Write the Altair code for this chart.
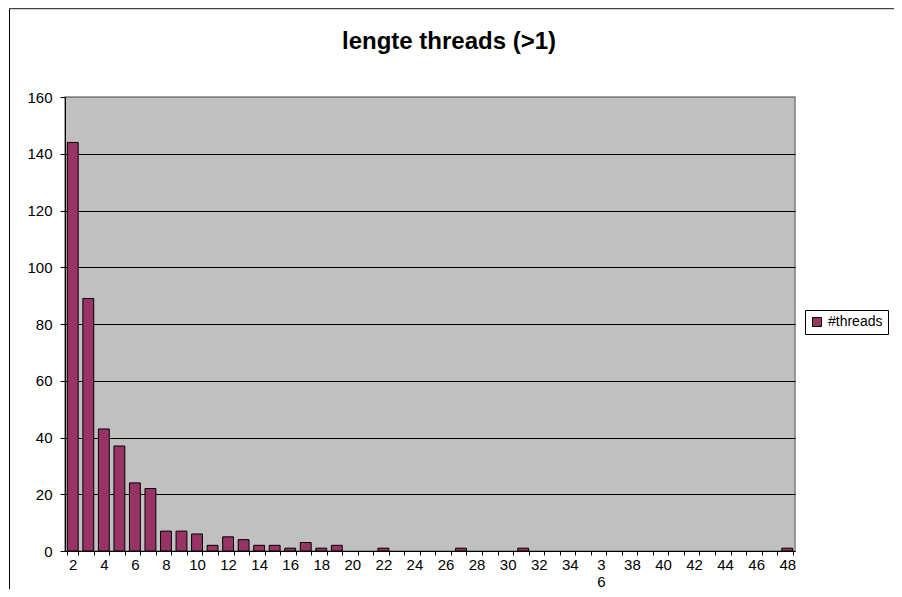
import altair as alt
import pandas as pd

categories = list(range(2, 49))
counts = [144, 89, 43, 37, 24, 22, 7, 7, 6, 2, 5, 4, 2, 2, 1, 3, 1, 2, 0, 0,
          1, 0, 0, 0, 0, 1, 0, 0, 0, 1, 0, 0, 0, 0, 0, 0, 0, 0, 0, 0,
          0, 0, 0, 0, 0, 0, 1]
series_name = "#threads"
title_text = "lengte threads (>1)"
y_ticks = list(range(0, 161, 20))

df = pd.DataFrame({"len": categories, "count": counts})
FONT = "Liberation Sans"

bars = alt.Chart(df).transform_filter("datum.count > 0").transform_calculate(
    series=f"'{series_name}'"
).mark_bar(stroke="black", strokeWidth=1).encode(
    x=alt.X("len:O", scale=alt.Scale(domain=categories, paddingInner=0.3, paddingOuter=0.15),
            axis=alt.Axis(title=None, tickBand="extent", labelAngle=0, labelOverlap=False,
                          labelExpr="datum.value % 2 == 0 ? (datum.value == 36 ? ['3', '6'] : datum.label) : ''",
                          labelFont=FONT, labelFontSize=15, labelColor="black", labelPadding=2,
                          labelLineHeight=17, labelBaseline="top",
                          tickColor="black", tickSize=4, domainColor="black", grid=False)),
    y=alt.Y("count:Q", scale=alt.Scale(domain=[0, 160], nice=False),
            axis=alt.Axis(title=None, values=y_ticks, labelFont=FONT, labelFontSize=15,
                          labelColor="black", labelPadding=8, tickColor="black", tickSize=5,
                          domainColor="black",
                          gridColor={"condition": {"test": "datum.value == 160", "value": "#808080"},
                                     "value": "black"},
                          gridWidth=1)),
    color=alt.Color("series:N", scale=alt.Scale(domain=[series_name], range=["#993366"]),
                    legend=alt.Legend(title=None, orient="none", legendX=740, legendY=213,
                                      symbolType="square", symbolSize=81, symbolStrokeColor="black",
                                      symbolStrokeWidth=1, labelFont=FONT, labelFontSize=14,
                                      labelColor="black", labelOffset=4, padding=5,
                                      strokeColor="black", fillColor="white")),
)

one = pd.DataFrame({"k": [0]})
frame_left = alt.Chart(one).mark_rule(color="black", strokeWidth=1).encode(
    x=alt.value(-55.5), y=alt.value(-88.5), y2=alt.value(600))
frame_top = alt.Chart(one).mark_rule(color="#444444", strokeWidth=1.5).encode(
    x=alt.value(-55.5), x2=alt.value(840), y=alt.value(-88.5))
title = alt.Chart(one).mark_text(text=title_text, font=FONT, fontSize=24, fontWeight="bold",
                                 color="black", align="center", baseline="alphabetic").encode(
    x=alt.value(384), y=alt.value(-48))

chart = alt.layer(bars, frame_left, frame_top, title).properties(
    width=730, height=454,
    autosize=alt.AutoSizeParams(type="none"),
    padding={"left": 57, "top": 89, "right": 99, "bottom": 38},
).configure_view(fill="#C0C0C0", stroke="#808080", strokeWidth=1.5)

chart.save("out.html", embed_options={"renderer": "svg", "actions": False})
